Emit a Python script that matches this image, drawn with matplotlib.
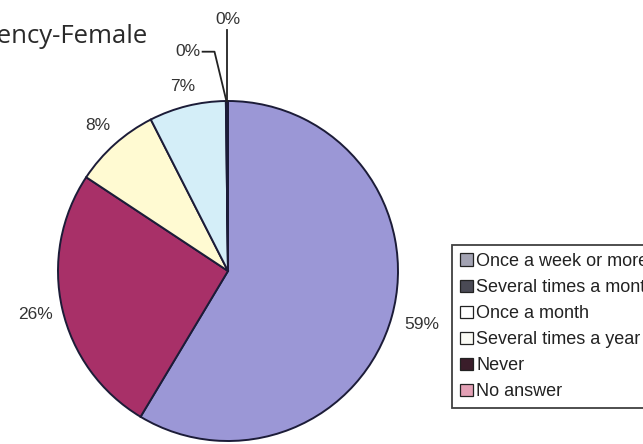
import numpy as np
import matplotlib

matplotlib.use("Agg")
import matplotlib.pyplot as plt
from matplotlib.patches import Patch

# data
categories = [
    "Once a week or more",
    "Several times a month",
    "Once a month",
    "Several times a year",
    "Never",
    "No answer",
]
shares = [58.6, 25.7, 8.2, 7.3, 0.1, 0.1]
slice_colors = ["#9b97d6", "#a83068", "#fffad2", "#d4eef8", "#2a1030", "#e88aa8"]
legend_colors = ["#a3a3b3", "#4a4a55", "#ffffff", "#fbfbf5", "#3a1d2a", "#e3a0b5"]
title = "Frequency-Female"

W, H = 643, 444
fig = plt.figure(figsize=(W / 100, H / 100), dpi=100)
ax = fig.add_axes([58 / W, 3 / H, 340 / W, 340 / H])

wedges, _ = ax.pie(
    shares,
    colors=slice_colors,
    startangle=90,
    counterclock=False,
    radius=1.0,
    wedgeprops=dict(edgecolor="#1c1c38", linewidth=1.4),
)
ax.set_xlim(-1, 1)
ax.set_ylim(-1, 1)
ax.set_aspect("equal")
ax.axis("off")

label_font = dict(family="Liberation Sans", fontsize=12.5, color="#333333")
labels = [f"{v:.0f}%" for v in shares]
label_dist = [1.18, 1.16, 1.15, 1.12]

for i, w in enumerate(wedges):
    mid = np.deg2rad((w.theta1 + w.theta2) / 2)
    ex, ey = np.cos(mid), np.sin(mid)
    if i < 4:
        d = label_dist[i]
        ax.text(d * ex, d * ey, labels[i], ha="center", va="center", **label_font)
    elif i == 4:
        # bent leader line to the left
        pts_x = [ex, ex - 0.07, ex - 0.14]
        pts_y = [ey, 1.29, 1.29]
        ax.plot(pts_x, pts_y, color="#222222", lw=1.3, clip_on=False)
        ax.text(ex - 0.15, 1.29, labels[i], ha="right", va="center", **label_font)
    else:
        ax.plot([ex, ex], [ey, 1.42], color="#222222", lw=1.3, clip_on=False)
        ax.text(ex, 1.48, labels[i], ha="center", va="center", **label_font)

fig.text(148 / W, 1 - 43 / H, title, ha="right", va="baseline",
         family="Open Sans", fontsize=18.5, color="#2a2a2a")

handles = [Patch(facecolor=c, edgecolor="#222222", linewidth=0.9) for c in legend_colors]
leg = fig.legend(
    handles,
    categories,
    loc="upper left",
    bbox_to_anchor=(452 / W, 1 - 245 / H),
    frameon=True,
    fancybox=False,
    edgecolor="#111111",
    prop=dict(family="Liberation Sans", size=13),
    handlelength=0.7,
    handleheight=0.7,
    handletextpad=0.2,
    labelspacing=0.5,
    borderpad=0.45,
    borderaxespad=0,
)
leg.get_frame().set_linewidth(1.3)
for t in leg.get_texts():
    t.set_color("#222222")

fig.savefig("out.png", dpi=100)
